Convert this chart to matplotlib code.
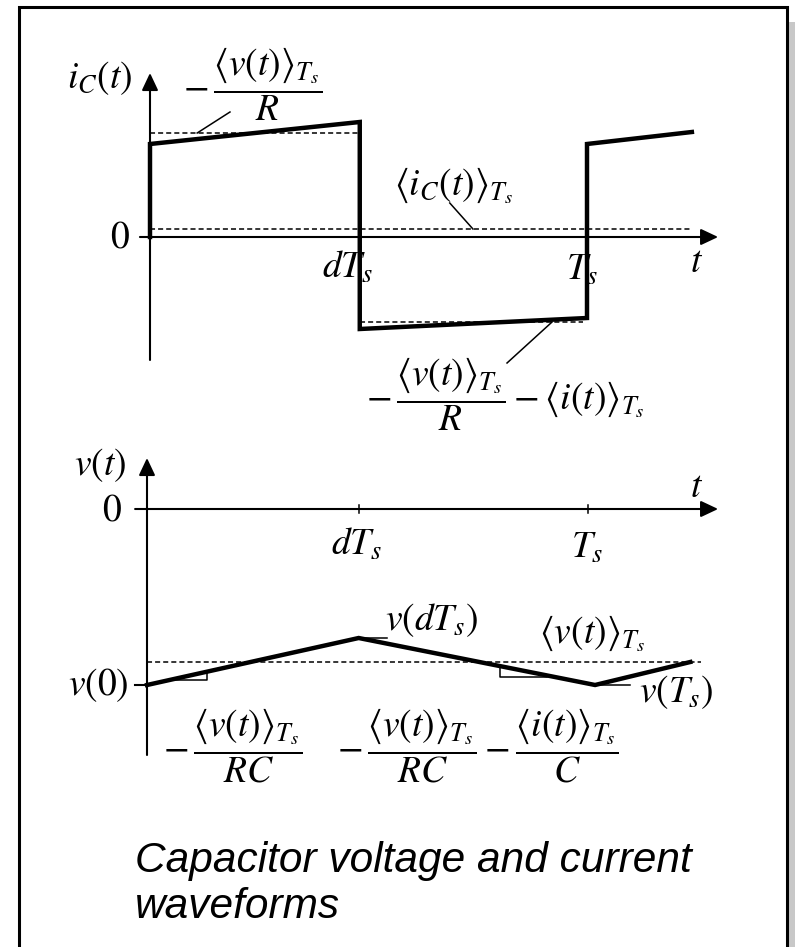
import numpy as np
import matplotlib
matplotlib.use('Agg')
import matplotlib.pyplot as plt
from matplotlib.patches import Rectangle

plt.rcParams['mathtext.fontset'] = 'stix'

# waveform data, t in units of Ts
d = 0.48
t_ic = [0, 0, d, d, 1, 1, 1.24]
i_c = [0, 0.93, 1.15, -0.92, -0.81, 0.93, 1.05]
i_hi_avg = 1.04
i_lo_avg = -0.85
i_avg = 0.08

t_v = [0, d, 1.016, 1.232]
v_c = [-1.76, -1.29, -1.76, -1.53]
v_avg = -1.53

W, H = 795, 947
FS = 27

fig = plt.figure(figsize=(W / 100, H / 100), dpi=100)

# slide frame with shadow
fig.add_artist(Rectangle((27 / W, -0.05), (W - 27) / W, 1 - 22 / H + 0.05,
                         transform=fig.transFigure, facecolor='#c8c8c8',
                         edgecolor='none', zorder=-3))
fig.add_artist(Rectangle((19 / W, -0.05), (787 - 19) / W, 1 - 7 / H + 0.05,
                         transform=fig.transFigure, facecolor='white',
                         edgecolor='black', lw=2.2, zorder=-2))


def make_axes(x0, xs, y0, ys):
    ax = fig.add_axes([0, 0, 1, 1])
    ax.set_xlim(-x0 / xs, (W - x0) / xs)
    ax.set_ylim((y0 - H) / ys, y0 / ys)
    ax.axis('off')
    ax.patch.set_alpha(0)
    return ax


def arrow(ax, start, tip):
    ax.annotate('', xy=tip, xytext=start,
                arrowprops=dict(arrowstyle='-|>,head_length=0.7,head_width=0.33',
                                lw=1.5, color='k', mutation_scale=15,
                                shrinkA=0, shrinkB=0))


def label(x, y, s, ha='center', **kw):
    fig.text(x / W, 1 - y / H, s, ha=ha, va='center', fontsize=FS, **kw)


# ---- capacitor current ----
ax_i = make_axes(150, 437, 237, 100)
arrow(ax_i, (0, -1.23), (0, 1.64))
arrow(ax_i, (-0.023, 0), (1.30, 0))
dash = dict(color='k', lw=1.1, ls=(0, (3.3, 2)))
ax_i.plot([0, d], [i_hi_avg] * 2, **dash)
ax_i.plot([d, 0.99], [i_lo_avg] * 2, **dash)
ax_i.plot([0, 1.236], [i_avg] * 2, **dash)
ax_i.plot(t_ic, i_c, color='k', lw=3.2, solid_joinstyle='miter')
lead = dict(color='k', lw=1.1)
ax_i.plot([0.183, 0.108], [1.25, 1.04], **lead)
ax_i.plot([0.686, 0.739], [0.34, 0.08], **lead)
ax_i.plot([0.817, 0.920], [-1.26, -0.85], **lead)

label(100, 78, r'$i_C(t)$')
label(120, 237, r'$0$')
label(348, 268, r'$dT_s$')
label(582, 270, r'$T_s$')
label(697, 262, r'$t$')
label(253, 84, r'$-\,\dfrac{\left\langle v(t)\right\rangle_{T_s}}{R}$')
label(453, 186, r'$\left\langle i_C(t)\right\rangle_{T_s}$')
label(505, 394, r'$-\,\dfrac{\left\langle v(t)\right\rangle_{T_s}}{R}-\left\langle i(t)\right\rangle_{T_s}$')

# ---- capacitor voltage ----
ax_v = make_axes(147, 441, 509, 100)
arrow(ax_v, (0, -2.46), (0, 0.51))
arrow(ax_v, (-0.027, 0), (1.295, 0))
for tk in [d, 1]:
    ax_v.plot([tk, tk], [-0.04, 0.04], color='k', lw=1.1)
ax_v.plot([-0.027, 0], [v_c[0]] * 2, color='k', lw=1.5)
ax_v.plot([0, 1.256], [v_avg] * 2, **dash)
ax_v.plot(t_v, v_c, color='k', lw=3.2, solid_joinstyle='miter')
# slope markers and leaders
ax_v.plot([0.052, 0.136, 0.136], [-1.715, -1.715, -1.627], **lead)
ax_v.plot([0.800, 0.800, 0.907], [-1.571, -1.68, -1.68], **lead)
ax_v.plot([1.016, 1.095], [-1.76, -1.76], **lead)
ax_v.plot([d, 0.544], [-1.29, -1.29], **lead)

label(100, 465, r'$v(t)$')
label(112, 510, r'$0$')
label(697, 487, r'$t$')
label(357, 545, r'$dT_s$')
label(587, 548, r'$T_s$')
label(432, 620, r'$v(dT_s)$')
label(98, 685, r'$v(0)$')
label(592, 634, r'$\left\langle v(t)\right\rangle_{T_s}$')
label(676, 692, r'$v(T_s)$')
label(233, 746, r'$-\,\dfrac{\left\langle v(t)\right\rangle_{T_s}}{RC}$')
label(478, 746, r'$-\,\dfrac{\left\langle v(t)\right\rangle_{T_s}}{RC}-\dfrac{\left\langle i(t)\right\rangle_{T_s}}{C}$')

# title
title_kw = dict(fontsize=30.5, style='italic', family=['Liberation Sans', 'DejaVu Sans'],
                ha='left', va='baseline')
fig.text(135 / W, 1 - 872 / H, 'Capacitor voltage and current', **title_kw)
fig.text(135 / W, 1 - 918 / H, 'waveforms', **title_kw)

fig.savefig('out.png', dpi=100)
